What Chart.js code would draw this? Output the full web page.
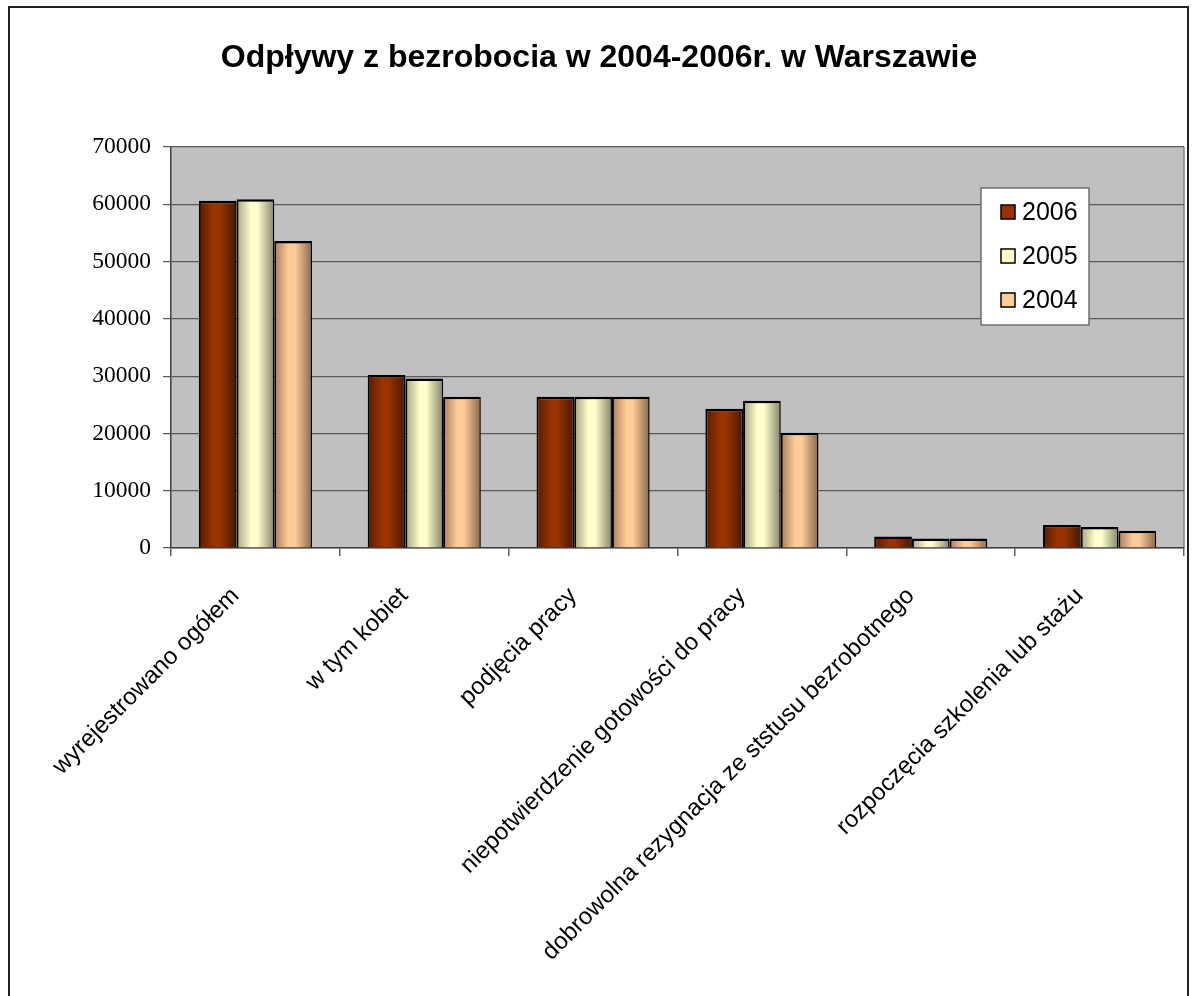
<!DOCTYPE html>
<html><head><meta charset="utf-8">
<script src="https://cdn.jsdelivr.net/npm/chart.js@4/dist/chart.umd.min.js"></script>
<style>html,body{margin:0;padding:0;background:#fff}</style>
</head><body>
<canvas id="c" width="1193" height="996"></canvas>
<script>
const TITLE = 'Odpływy z bezrobocia w 2004-2006r. w Warszawie';
const categories = [
  'wyrejestrowano ogółem',
  'w tym kobiet',
  'podjęcia pracy',
  'niepotwierdzenie gotowości do pracy',
  'dobrowolna rezygnacja ze ststusu bezrobotnego',
  'rozpoczęcia szkolenia lub stażu'
];
const seriesNames = ['2006', '2005', '2004'];
const values2006 = [60600, 30200, 26400, 24300, 2000, 4000];
const values2005 = [60900, 29600, 26400, 25700, 1650, 3650];
const values2004 = [53600, 26400, 26400, 20100, 1650, 3000];
const yMin = 0, yMax = 70000, yStep = 10000;

const CAT_PCT = 0.67;
const palettes = [
  ['#561c00', '#993300', '#4a1700'],
  ['#a3a384', '#ffffcc', '#85856a'],
  ['#a57c5c', '#ffcc99', '#8a684b']
];
function barGradient(p){
  return (ctx) => {
    const chart = ctx.chart, xs = chart.scales.x;
    if (!xs || !chart.chartArea || ctx.dataIndex === undefined) return p[1];
    const n = chart.data.labels.length, nds = chart.data.datasets.length;
    const catW = (xs.right - xs.left) / n;
    const barW = catW * CAT_PCT / nds;
    const center = xs.getPixelForValue(ctx.dataIndex);
    const left = center - barW * nds / 2 + ctx.datasetIndex * barW;
    const g = chart.ctx.createLinearGradient(left, 0, left + barW, 0);
    g.addColorStop(0, p[0]);
    g.addColorStop(0.38, p[1]);
    g.addColorStop(0.55, p[1]);
    g.addColorStop(1, p[2]);
    return g;
  };
}
const seriesValues = [values2006, values2005, values2004];
const datasets = seriesNames.map((name, i) => ({
  label: name,
  data: seriesValues[i],
  backgroundColor: barGradient(palettes[i]),
  borderColor: '#000',
  borderWidth: {top: 2.5, left: 2, right: 1.5, bottom: 0},
  borderSkipped: 'start',
  categoryPercentage: CAT_PCT,
  barPercentage: 1.0
}));

const decor = {
  id: 'decor',
  beforeDraw(chart){
    const c = chart.ctx, a = chart.chartArea;
    c.save();
    c.fillStyle = '#fff';
    c.fillRect(0, 0, chart.width, chart.height);
    c.fillStyle = '#c0c0c0';
    c.fillRect(a.left, a.top, a.right - a.left, a.bottom - a.top);
    c.strokeStyle = '#808080';
    c.lineWidth = 1.5;
    c.beginPath();
    c.moveTo(a.right, a.top); c.lineTo(a.right, a.bottom);
    c.stroke();
    c.strokeStyle = '#222';
    c.lineWidth = 2;
    c.strokeRect(9, 7, 1179, 1100);
    c.fillStyle = '#000';
    c.font = 'bold 32px "Liberation Sans", Arial, sans-serif';
    c.textAlign = 'center';
    c.textBaseline = 'middle';
    c.fillText(TITLE, 599, 58);
    c.restore();
  },
  afterDraw(chart){
    const c = chart.ctx;
    c.save();
    c.fillStyle = '#fff';
    c.fillRect(981, 188, 108, 137);
    c.strokeStyle = '#6e6e6e';
    c.lineWidth = 1.5;
    c.strokeRect(981, 188, 108, 137);
    const rows = [212, 256, 300];
    chart.data.datasets.forEach((ds, i) => {
      const y = rows[i];
      c.fillStyle = palettes[i][1];
      c.fillRect(1001, y - 7, 14, 14);
      c.strokeStyle = '#000';
      c.lineWidth = 1.5;
      c.strokeRect(1001, y - 7, 14, 14);
      c.fillStyle = '#000';
      c.font = '25px "Liberation Sans", Arial, sans-serif';
      c.textAlign = 'left';
      c.textBaseline = 'middle';
      c.fillText(ds.label, 1022, y + 1);
    });
    c.restore();
  }
};

new Chart(document.getElementById('c'), {
  type: 'bar',
  data: { labels: categories, datasets },
  options: {
    responsive: false,
    animation: false,
    devicePixelRatio: 1,
    layout: { padding: { top: 147, left: 0, right: 9, bottom: 0 } },
    plugins: { legend: { display: false }, title: { display: false }, tooltip: { enabled: false } },
    scales: {
      x: {
        afterFit(s){ s.height = 448; },
        grid: { display: true, offset: true, drawOnChartArea: false, drawTicks: true, tickLength: 8, color: '#606060', lineWidth: 1.5 },
        border: { display: true, color: '#404040', width: 1.5 },
        ticks: {
          autoSkip: false, minRotation: 45, maxRotation: 45, padding: 26, labelOffset: -20,
          color: '#000', font: { family: '"Liberation Sans", Arial, sans-serif', size: 24 }
        }
      },
      y: {
        min: yMin, max: yMax,
        afterFit(s){ s.width = 171; },
        grid: { color: '#5a5a5a', lineWidth: 1.2, drawTicks: true, tickLength: 8 },
        border: { display: true, color: '#404040', width: 1.5 },
        ticks: {
          stepSize: yStep, padding: 12, color: '#000',
          font: { family: '"Liberation Serif", "Times New Roman", serif', size: 23.5 },
          callback: (v) => String(v)
        }
      }
    }
  },
  plugins: [decor]
});
</script>
</body></html>
